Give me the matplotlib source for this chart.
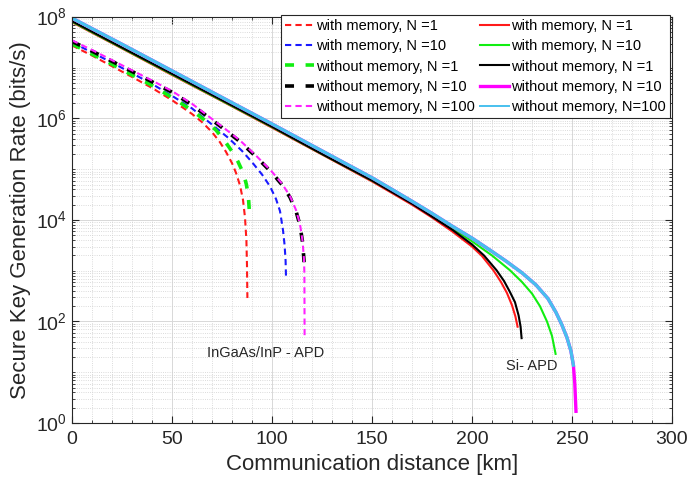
import matplotlib
matplotlib.use("Agg")
import matplotlib.pyplot as plt
from matplotlib.lines import Line2D
from matplotlib.ticker import LogLocator, MultipleLocator, NullFormatter, FixedLocator

plt.rcParams['font.family'] = ['Liberation Sans', 'DejaVu Sans']
plt.rcParams['mathtext.fontset'] = 'custom'
plt.rcParams['mathtext.rm'] = 'Liberation Sans'

# ---- data ----
# InGaAs/InP APD (dashed)
x_wm1_d = [0, 10, 20, 30, 40, 50, 60, 65, 70, 74, 77, 80, 82, 84, 85.5, 86.5, 87.2, 87.5, 87.7]
y_wm1_d = [2.75e7, 1.74e7, 1.07e7, 6.6e6, 4.0e6, 2.3e6, 1.23e6, 8.5e5, 5.4e5, 3.4e5, 2.2e5,
           1.32e5, 8.5e4, 4.8e4, 2.5e4, 1.12e4, 4.0e3, 1.26e3, 290]

x_wm10_d = [0, 10, 20, 30, 40, 50, 60, 70, 78, 85, 90, 95, 99, 102, 104, 105.5, 106.3, 106.8, 107]
y_wm10_d = [3.16e7, 2.0e7, 1.26e7, 7.8e6, 4.8e6, 2.8e6, 1.58e6, 7.6e5, 4.2e5, 2.3e5, 1.38e5,
            7.9e4, 4.6e4, 2.6e4, 1.5e4, 6.3e3, 3.2e3, 1.58e3, 760]

x_wo1_d = [0, 10, 20, 30, 40, 50, 60, 66, 72, 76, 80, 83, 85.7, 87.2, 88.2, 88.7]
y_wo1_d = [2.95e7, 1.86e7, 1.17e7, 7.2e6, 4.5e6, 2.6e6, 1.45e6, 9.5e5, 5.9e5, 3.8e5, 2.24e5,
           1.41e5, 8.3e4, 5.0e4, 2.9e4, 1.45e4]

x_wo10_d = [0, 10, 20, 30, 40, 50, 60, 69, 76, 84, 92, 100, 105, 109, 112, 114, 115.3, 116, 116.2]
y_wo10_d = [3.3e7, 2.13e7, 1.34e7, 8.45e6, 5.3e6, 3.3e6, 1.85e6, 1.0e6, 6.2e5, 3.5e5, 1.77e5,
            8.5e4, 4.95e4, 2.8e4, 1.5e4, 7.9e3, 3.6e3, 1.6e3, 900]

x_wo100_d = [0, 10, 20, 30, 40, 50, 60, 69, 76, 84, 92, 100, 105, 109, 112, 114, 115.3, 116, 116.2, 116.3]
y_wo100_d = [3.47e7, 2.24e7, 1.41e7, 8.9e6, 5.6e6, 3.47e6, 1.95e6, 1.05e6, 6.5e5, 3.7e5, 1.86e5,
             8.9e4, 5.2e4, 2.95e4, 1.58e4, 8.3e3, 3.8e3, 1.66e3, 890, 50]

# Si APD (solid)
x_wm1_s = [0, 25, 50, 75, 100, 125, 150, 160, 170, 180, 190, 200, 205, 210.7, 214.5, 217.5, 220, 221.7, 222.8]
y_wm1_s = [7.9e7, 2.4e7, 7.2e6, 2.2e6, 6.6e5, 1.95e5, 5.75e4, 3.4e4, 2.0e4, 1.12e4, 6.0e3, 3.0e3,
           1.95e3, 1.02e3, 600, 363, 209, 126, 79]

x_wm10_s = [0, 25, 50, 75, 100, 125, 150, 160, 170, 180, 190, 200, 210, 219, 225, 230, 234, 237.5, 240, 241.8]
y_wm10_s = [8.1e7, 2.45e7, 7.4e6, 2.24e6, 6.8e5, 2.0e5, 6.0e4, 3.63e4, 2.14e4, 1.23e4, 6.9e3, 3.8e3,
            2.0e3, 1.02e3, 600, 355, 200, 100, 52, 23]

x_wo1_s = [0, 25, 50, 75, 100, 125, 150, 160, 170, 180, 190, 200, 206, 212.3, 216, 219, 221.5, 223.3, 224.3, 224.8]
y_wo1_s = [8.3e7, 2.5e7, 7.6e6, 2.3e6, 6.9e5, 2.0e5, 6.0e4, 3.55e4, 2.1e4, 1.17e4, 6.5e3, 3.3e3,
           2.0e3, 1.02e3, 630, 380, 240, 132, 79, 47]

x_wo10_s = [0, 25, 50, 75, 100, 125, 150, 160, 170, 180, 190, 200, 210, 217, 225, 232, 238, 242, 245,
            247.5, 249.5, 250.7, 251.4, 252]
y_wo10_s = [9.5e7, 2.9e7, 8.7e6, 2.6e6, 7.8e5, 2.3e5, 6.8e4, 4.0e4, 2.34e4, 1.35e4, 7.6e3, 4.4e3,
            2.4e3, 1.55e3, 910, 525, 282, 151, 85, 48, 26, 13.8, 6, 1.7]

x_wo100_s = [0, 25, 50, 75, 100, 125, 150, 160, 170, 180, 190, 200, 210, 217, 225, 232, 238, 242, 245,
             247.5, 249.5, 250.7]
y_wo100_s = [9.5e7, 2.9e7, 8.7e6, 2.6e6, 7.8e5, 2.3e5, 6.8e4, 4.0e4, 2.34e4, 1.35e4, 7.6e3, 4.4e3,
             2.4e3, 1.55e3, 910, 525, 282, 151, 85, 48, 26, 13.8]

x_ticks = [0, 50, 100, 150, 200, 250, 300]
y_ticks = [1e0, 1e2, 1e4, 1e6, 1e8]

labels_dashed = ['with memory, N =1', 'with memory, N =10', 'without memory, N =1',
                 'without memory, N =10', 'without memory, N =100']
labels_solid = ['with memory, N =1', 'with memory, N =10', 'without memory, N =1',
                'without memory, N =10', 'without memory, N=100']

RED, BLUE, GREEN, BLACK, MAG, CYAN = '#ff1a1a', '#1a1aff', '#11ee11', 'black', '#ff22ff', '#48c0ee'

fig = plt.figure(figsize=(6.89, 4.91), dpi=100)
ax = fig.add_axes([0.1045, 0.1385, 0.8708, 0.8269])

thin = (0, (3, 2))
thick = (0, (2.5, 3.2))

h1, = ax.plot(x_wm1_d, y_wm1_d, color=RED, lw=1.5, ls=thin, label=labels_dashed[0])
h2, = ax.plot(x_wm10_d, y_wm10_d, color=BLUE, lw=1.5, ls=thin, label=labels_dashed[1])
h3, = ax.plot(x_wo1_d, y_wo1_d, color=GREEN, lw=2.6, ls=thick, label=labels_dashed[2])
h4, = ax.plot(x_wo10_d, y_wo10_d, color=BLACK, lw=2.6, ls=thick, label=labels_dashed[3])
h5, = ax.plot(x_wo100_d, y_wo100_d, color=MAG, lw=1.5, ls=thin, label=labels_dashed[4])

s1, = ax.plot(x_wm1_s, y_wm1_s, color=RED, lw=1.5, label=labels_solid[0])
s2, = ax.plot(x_wm10_s, y_wm10_s, color=GREEN, lw=1.5, label=labels_solid[1])
s3, = ax.plot(x_wo1_s, y_wo1_s, color=BLACK, lw=1.5, label=labels_solid[2])
s4, = ax.plot(x_wo10_s, y_wo10_s, color='#ff00ff', lw=2.4, label=labels_solid[3])
s5, = ax.plot(x_wo100_s, y_wo100_s, color=CYAN, lw=2.4, label=labels_solid[4])
s5_leg = Line2D([], [], color=CYAN, lw=1.4)

ax.set_yscale('log')
ax.set_xlim(0, 300)
ax.set_ylim(1e0, 1e8)
ax.xaxis.set_major_locator(FixedLocator(x_ticks))
ax.xaxis.set_minor_locator(MultipleLocator(10))
ax.yaxis.set_major_locator(FixedLocator(y_ticks))
ax.yaxis.set_minor_locator(LogLocator(base=10, subs=[1, 2, 3, 4, 5, 6, 7, 8, 9], numticks=20))
ax.yaxis.set_minor_formatter(NullFormatter())
ax.set_yticklabels([r'$10^{0}$', r'$10^{2}$', r'$10^{4}$', r'$10^{6}$', r'$10^{8}$'])

ax.grid(True, which='major', color='#d8d8d8', lw=0.7, ls='-')
ax.grid(True, which='minor', color='#cfcfcf', lw=0.6, ls=':')
ax.set_axisbelow(True)

ax.tick_params(which='both', direction='in', top=True, right=True, labelsize=14, colors='#262626')
ax.tick_params(which='major', length=5, width=0.8)
ax.tick_params(which='minor', length=2.5, width=0.6)
ax.tick_params(axis='x', pad=6)
for sp in ax.spines.values():
    sp.set_color('#262626')
    sp.set_linewidth(0.8)

ax.set_xlabel('Communication distance [km]', fontsize=16, color='#262626', labelpad=4)
ax.set_ylabel('Secure Key Generation Rate (bits/s)', fontsize=16, color='#262626', labelpad=4)

ax.text(97, 24, 'InGaAs/InP - APD', fontsize=10.5, ha='center', va='center', color='#262626')
ax.text(230, 13, 'Si- APD', fontsize=10.5, ha='center', va='center', color='#262626')

leg = ax.legend(handles=[h1, h2, h3, h4, h5, s1, s2, s3, s4, s5_leg],
                labels=labels_dashed + labels_solid, ncol=2, loc='upper right',
                bbox_to_anchor=(0.997, 1.005), borderaxespad=0, fontsize=10.5,
                frameon=True, fancybox=False, framealpha=1, edgecolor='#262626',
                handlelength=2.0, handletextpad=0.15, labelspacing=0.42, columnspacing=0.3,
                borderpad=0.3)
leg.get_frame().set_linewidth(0.8)

fig.savefig('out.png', dpi=100)
